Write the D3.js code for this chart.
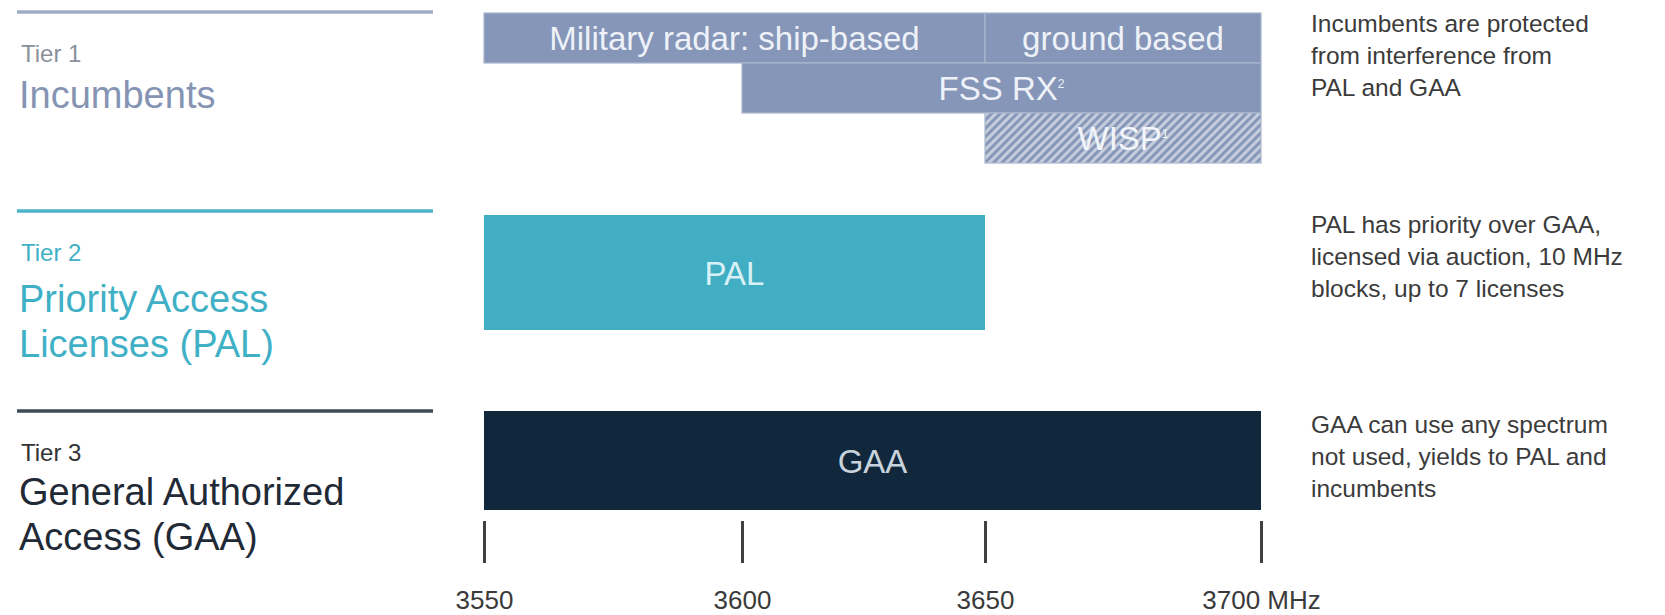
<meta charset="utf-8">
<script src="https://d3js.org/d3.v7.min.js"></script>
<style>
  body { margin: 0; background: #fff; }
  text { font-family: "Liberation Sans", Arial, sans-serif; }
  .tick line { stroke: #404040; stroke-width: 3px; }
  .tick text { fill: #3a3a3a; font-size: 26px; }
</style>
<body>
<script>
  // tiers (left labels + right notes)
  var tierNames = ['Tier 1', 'Tier 2', 'Tier 3'];
  var tierTitles = [['Incumbents'], ['Priority Access', 'Licenses (PAL)'], ['General Authorized', 'Access (GAA)']];
  var tierNotes = [
    ['Incumbents are protected', 'from interference from', 'PAL and GAA'],
    ['PAL has priority over GAA,', 'licensed via auction, 10 MHz', 'blocks, up to 7 licenses'],
    ['GAA can use any spectrum', 'not used, yields to PAL and', 'incumbents']
  ];

  // spectrum bands (MHz)
  var bandLabels = ['Military radar: ship-based', 'ground based', 'FSS RX', 'WISP', 'PAL', 'GAA'];
  var bandSups   = ['', '', '2', '1', '', ''];
  var bandStart  = [3550, 3650, 3600, 3650, 3550, 3550];
  var bandEnd    = [3650, 3700, 3700, 3700, 3650, 3700];
  var bandRows   = ['mil', 'mil', 'fss', 'wisp', 'pal', 'gaa'];

  var tickValues = [3550, 3600, 3650, 3700];
  var tickLabels = ['3550', '3600', '3650', '3700 MHz'];

  var bands = bandLabels.map(function(d, i) {
    return {label: d, sup: bandSups[i], x0: bandStart[i], x1: bandEnd[i], row: bandRows[i]};
  });

  var W = 1665, H = 615;
  var svg = d3.select('body').append('svg')
    .attr('width', W)
    .attr('height', H);

  // hand-drawn spacing in the original is not even, so piecewise
  var x = d3.scaleLinear()
    .domain(tickValues)
    .range([484, 742, 985, 1261]);

  var rowY = d3.scaleOrdinal()
    .domain(['mil', 'fss', 'wisp', 'pal', 'gaa'])
    .range([[13, 63], [63, 113], [113, 163], [215, 330], [411, 510]]);

  var fills = {mil: '#8596b8', fss: '#8596b8', wisp: 'url(#hatch)', pal: '#41aec3', gaa: '#11283c'};
  var textFills = {mil: '#eef2f8', fss: '#eef2f8', wisp: '#f2f5fa', pal: '#d8f1f6', gaa: '#c9d3dd'};

  var defs = svg.append('defs');
  var pat = defs.append('pattern')
    .attr('id', 'hatch')
    .attr('patternUnits', 'userSpaceOnUse')
    .attr('width', 6)
    .attr('height', 6)
    .attr('patternTransform', 'rotate(45)');
  pat.append('rect').attr('width', 6).attr('height', 6).attr('fill', '#c5cddd');
  pat.append('line').attr('x1', 1.5).attr('x2', 1.5).attr('y1', 0).attr('y2', 6)
    .attr('stroke', '#8797b8').attr('stroke-width', 3);

  // tier header lines + labels
  var tierLineY = [12, 211, 411];
  var tierColors = ['#9eacc6', '#4cb5c9', '#3f4b56'];
  var tierSmallColors = ['#8b909b', '#41b0c6', '#333333'];
  var tierTitleColors = ['#8594b3', '#3fb0c6', '#1f2a36'];
  var titleOffset = [46, 51, 44];

  var tiers = svg.selectAll('g.tier').data(tierNames)
    .enter()
    .append('g')
    .attr('class', 'tier')
    .attr('transform', function(d, i) { return 'translate(0,' + tierLineY[i] + ')'; });

  tiers.append('line')
    .attr('x1', 17).attr('x2', 433)
    .attr('y1', 0).attr('y2', 0)
    .attr('stroke', function(d, i) { return tierColors[i]; })
    .attr('stroke-width', 3.5);

  tiers.append('text')
    .attr('x', 21).attr('y', 50)
    .attr('fill', function(d, i) { return tierSmallColors[i]; })
    .style('font-size', '24px')
    .text(function(d) { return d; });

  tiers.each(function(d, i) {
    var g = d3.select(this);
    tierTitles[i].forEach(function(t, j) {
      g.append('text')
        .attr('x', 19)
        .attr('y', 50 + titleOffset[i] + j * 45)
        .attr('fill', tierTitleColors[i])
        .style('font-size', '38px')
        .text(t);
    });
  });

  // right notes
  var noteY = [32, 233, 433];
  svg.selectAll('g.note').data(tierNotes)
    .enter()
    .append('g')
    .attr('class', 'note')
    .attr('transform', function(d, i) { return 'translate(1311,' + noteY[i] + ')'; })
    .selectAll('text').data(function(d) { return d; })
    .enter()
    .append('text')
    .attr('y', function(d, j) { return j * 32; })
    .attr('fill', '#3b3b3b')
    .style('font-size', '24.5px')
    .text(function(d) { return d; });

  // bars
  var bar = svg.selectAll('g.band').data(bands)
    .enter()
    .append('g')
    .attr('class', 'band');

  bar.append('rect')
    .attr('x', function(d) { return x(d.x0); })
    .attr('y', function(d) { return rowY(d.row)[0]; })
    .attr('width', function(d) { return x(d.x1) - x(d.x0); })
    .attr('height', function(d) { return rowY(d.row)[1] - rowY(d.row)[0]; })
    .attr('fill', function(d) { return fills[d.row]; })
    .attr('stroke', function(d) { return (d.row == 'mil' || d.row == 'fss' || d.row == 'wisp') ? '#a9b6ce' : 'none'; })
    .attr('stroke-width', 1.2);

  var label = bar.append('text')
    .attr('x', function(d) { return (x(d.x0) + x(d.x1)) / 2; })
    .attr('y', function(d) { var r = rowY(d.row); return (r[0] + r[1]) / 2 + 12; })
    .attr('text-anchor', 'middle')
    .attr('fill', function(d) { return textFills[d.row]; })
    .style('font-size', '33px');
  label.append('tspan').text(function(d) { return d.label; });
  label.filter(function(d) { return d.sup; })
    .append('tspan')
    .attr('dy', -12)
    .style('font-size', '12px')
    .text(function(d) { return d.sup; });

  // frequency axis
  var axis = d3.axisBottom(x)
    .tickValues(tickValues)
    .tickFormat(function(d, i) { return tickLabels[i]; })
    .tickSize(42)
    .tickPadding(28);

  var ax = svg.append('g')
    .attr('transform', 'translate(0,521)')
    .call(axis);
  ax.select('.domain').remove();
  ax.attr('font-size', null).attr('font-family', null);
</script>
</body>
